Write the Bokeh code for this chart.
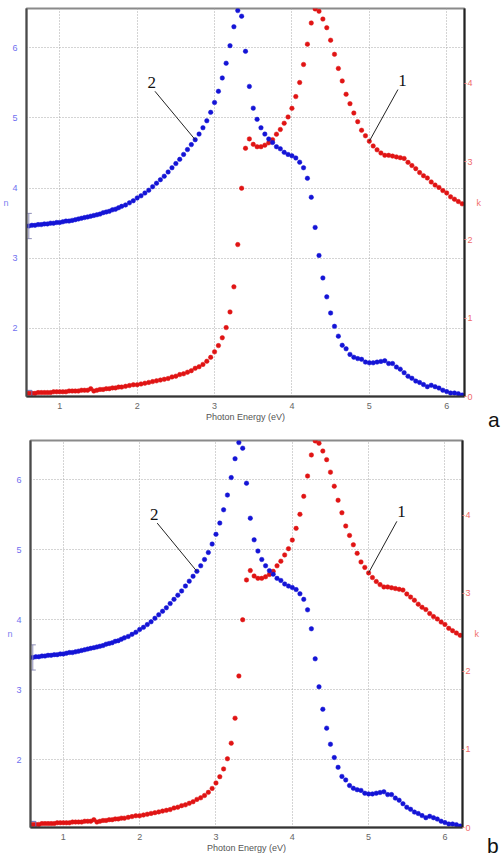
from bokeh.plotting import figure
from bokeh.models import Range1d, LinearAxis, Label, FixedTicker, Div
from bokeh.layouts import column, row
from bokeh.embed import file_html
from bokeh.resources import INLINE

# ---- data ----
energy = [0.60, 0.64, 0.68, 0.72, 0.76, 0.80, 0.84, 0.88, 0.92, 0.96,
          1.00, 1.04, 1.08, 1.12, 1.16, 1.20, 1.24, 1.28, 1.32, 1.36,
          1.40, 1.44, 1.48, 1.52, 1.56, 1.60, 1.64, 1.68, 1.72, 1.76,
          1.80, 1.85, 1.90, 1.95, 2.00, 2.05, 2.10, 2.15, 2.20, 2.25,
          2.30, 2.35, 2.40, 2.45, 2.50, 2.55, 2.60, 2.65, 2.70, 2.75,
          2.80, 2.85, 2.90, 2.95, 3.00, 3.05, 3.10, 3.15, 3.20, 3.25,
          3.30, 3.35, 3.40, 3.45, 3.50, 3.55, 3.60, 3.65, 3.70, 3.75,
          3.80, 3.85, 3.90, 3.95, 4.00, 4.05, 4.10, 4.15, 4.20, 4.25,
          4.30, 4.35, 4.40, 4.45, 4.50, 4.55, 4.60, 4.65, 4.70, 4.75,
          4.80, 4.85, 4.90, 4.95, 5.00, 5.05, 5.10, 5.15, 5.20, 5.25,
          5.30, 5.35, 5.40, 5.45, 5.50, 5.55, 5.60, 5.65, 5.70, 5.75,
          5.80, 5.85, 5.90, 5.95, 6.00, 6.05, 6.10, 6.15, 6.20]

n_values = [3.46, 3.47, 3.47, 3.48, 3.48, 3.49, 3.49, 3.50, 3.50, 3.51,
            3.51, 3.52, 3.53, 3.53, 3.54, 3.55, 3.56, 3.57, 3.58, 3.59,
            3.60, 3.61, 3.62, 3.63, 3.65, 3.66, 3.67, 3.69, 3.70, 3.72,
            3.74, 3.76, 3.79, 3.82, 3.86, 3.89, 3.93, 3.97, 4.02, 4.07,
            4.12, 4.17, 4.23, 4.29, 4.35, 4.41, 4.48, 4.55, 4.62, 4.69,
            4.77, 4.86, 4.96, 5.08, 5.22, 5.38, 5.57, 5.78, 6.03, 6.30,
            6.53, 6.45, 5.95, 5.45, 5.14, 4.98, 4.86, 4.77, 4.70, 4.65,
            4.59, 4.56, 4.51, 4.48, 4.46, 4.43, 4.37, 4.29, 4.14, 3.87,
            3.44, 3.04, 2.72, 2.45, 2.22, 2.03, 1.89, 1.76, 1.71, 1.63,
            1.59, 1.57, 1.56, 1.52, 1.51, 1.51, 1.52, 1.53, 1.54, 1.50,
            1.50, 1.45, 1.42, 1.37, 1.32, 1.29, 1.25, 1.23, 1.20, 1.17,
            1.19, 1.17, 1.15, 1.12, 1.10, 1.08, 1.08, 1.07, 1.05]

k_values = [0.04, 0.04, 0.04, 0.05, 0.05, 0.05, 0.05, 0.05, 0.06, 0.06,
            0.06, 0.06, 0.06, 0.07, 0.07, 0.07, 0.07, 0.08, 0.08, 0.08,
            0.10, 0.07, 0.08, 0.09, 0.09, 0.10, 0.10, 0.11, 0.11, 0.12,
            0.12, 0.13, 0.14, 0.15, 0.15, 0.16, 0.17, 0.18, 0.19, 0.20,
            0.21, 0.22, 0.23, 0.25, 0.26, 0.28, 0.29, 0.31, 0.33, 0.36,
            0.38, 0.41, 0.45, 0.50, 0.57, 0.65, 0.75, 0.88, 1.08, 1.40,
            1.94, 2.66, 3.17, 3.29, 3.22, 3.19, 3.19, 3.21, 3.24, 3.28,
            3.35, 3.41, 3.49, 3.57, 3.68, 3.83, 4.01, 4.24, 4.50, 4.77,
            4.95, 4.92, 4.82, 4.71, 4.55, 4.37, 4.19, 4.03, 3.86, 3.74,
            3.62, 3.51, 3.40, 3.33, 3.26, 3.20, 3.15, 3.11, 3.08, 3.08,
            3.07, 3.06, 3.05, 3.04, 2.99, 2.95, 2.91, 2.86, 2.82, 2.79,
            2.74, 2.70, 2.67, 2.63, 2.60, 2.55, 2.52, 2.49, 2.46]

x_ticks = [1, 2, 3, 4, 5, 6]
n_ticks = [2, 3, 4, 5, 6]
k_ticks = [0, 1, 2, 3, 4]
panel_letters = ["a", "b"]
curve_names = ["1", "2"]   # 1 -> k curve, 2 -> n curve
x_title = "Photon Energy (eV)"
n_title = "n"
k_title = "k"

BLUE = "#1414d6"
RED = "#e01414"
FONT = "Liberation Sans"


def side_label(axis, text, color, fallback_label, plot):
    try:
        axis.axis_label = text
        axis.axis_label_orientation = "horizontal"
        axis.axis_label_text_font = FONT
        axis.axis_label_text_font_size = "9px"
        axis.axis_label_text_font_style = "normal"
        axis.axis_label_text_color = color
        axis.axis_label_standoff = 1
    except Exception:
        axis.axis_label = None
        plot.add_layout(fallback_label)


def make_panel(b_left, b_right, b_top, b_bottom, fw, fh):
    p = figure(frame_width=fw, frame_height=fh,
               min_border_left=b_left, min_border_right=b_right,
               min_border_top=b_top, min_border_bottom=b_bottom,
               x_range=Range1d(0.57, 6.23), y_range=Range1d(1.03, 6.56),
               output_backend="svg", toolbar_location=None)
    p.extra_y_ranges = {"k": Range1d(0.0, 4.955)}
    p.background_fill_color = "white"
    p.border_fill_color = "white"
    p.outline_line_color = "#8a8a8a"
    p.outline_line_width = 2

    # axes
    xa = p.xaxis[0]
    xa.ticker = FixedTicker(ticks=x_ticks)
    xa.axis_line_color = "#333333"
    xa.axis_line_width = 2
    xa.major_tick_line_color = None
    xa.minor_tick_line_color = None
    xa.major_label_text_font = FONT
    xa.major_label_text_font_size = "9px"
    xa.major_label_text_color = "#666666"
    xa.major_label_standoff = 0
    xa.axis_label = x_title
    xa.axis_label_text_font = FONT
    xa.axis_label_text_font_size = "9px"
    xa.axis_label_text_font_style = "normal"
    xa.axis_label_text_color = "#555555"
    xa.axis_label_standoff = 0

    ya = p.yaxis[0]
    ya.ticker = FixedTicker(ticks=n_ticks)
    ya.axis_line_color = "#4a4a4a"
    ya.axis_line_width = 2
    ya.major_tick_line_color = None
    ya.minor_tick_line_color = None
    ya.major_label_text_font = FONT
    ya.major_label_text_font_size = "9px"
    ya.major_label_text_color = "#7070f0"
    ya.major_label_standoff = 3

    ka = LinearAxis(y_range_name="k", ticker=FixedTicker(ticks=k_ticks))
    ka.axis_line_color = "#222222"
    ka.axis_line_width = 2
    ka.major_tick_line_color = "#f08080"
    ka.major_tick_in = 0
    ka.major_tick_out = 2
    ka.minor_tick_line_color = None
    ka.major_label_text_font = FONT
    ka.major_label_text_font_size = "9px"
    ka.major_label_text_color = "#f06a6a"
    ka.major_label_standoff = 1
    p.add_layout(ka, "right")

    side_label(ya, n_title, "#8080f0",
               Label(x=-16, y=fh / 2, x_units="screen", y_units="screen", text=n_title,
                     text_font=FONT, text_font_size="9px", text_color="#8080f0",
                     text_align="center", text_baseline="middle"), p)
    side_label(ka, k_title, "#f07070",
               Label(x=fw + 15, y=fh / 2, x_units="screen", y_units="screen", text=k_title,
                     text_font=FONT, text_font_size="9px", text_color="#f07070",
                     text_align="center", text_baseline="middle"), p)

    # grid
    p.xgrid.grid_line_color = "#a8a8a8"
    p.xgrid.grid_line_dash = "1 2"
    p.ygrid.grid_line_color = "#a8a8a8"
    p.ygrid.grid_line_dash = "1 2"

    # data
    p.scatter(energy, k_values, y_range_name="k", size=4.5,
              fill_color=RED, line_color=RED, line_width=0.5)
    p.scatter(energy, n_values, size=4.5,
              fill_color=BLUE, line_color=BLUE, line_width=0.5)

    # start markers at first data point
    p.segment(x0=[energy[0]], y0=[n_values[0] - 0.18], x1=[energy[0]], y1=[n_values[0] + 0.18],
              line_color="#8f8fb8", line_width=1)
    p.scatter([energy[0], energy[0]], [n_values[0] - 0.18, n_values[0] + 0.18], marker="dash",
              size=6, line_color="#8f8fb8", line_width=1)
    p.scatter([energy[0]], [k_values[0]], y_range_name="k", marker="square", size=6,
              fill_color=None, line_color="#6d6db5", line_width=1)

    # curve annotations
    i2 = energy.index(2.75)
    p.segment(x0=[2.23], y0=[5.38], x1=[energy[i2]], y1=[n_values[i2]],
              line_color="#222222", line_width=1)
    p.add_layout(Label(x=2.19, y=5.50, text=curve_names[1], text_font="Liberation Serif",
                       text_font_size="17px", text_align="center", text_baseline="middle",
                       text_color="#111111"))
    i1 = energy.index(5.00)
    p.segment(x0=[5.37], y0=[3.92], x1=[energy[i1]], y1=[k_values[i1]], y_range_name="k",
              line_color="#222222", line_width=1)
    p.add_layout(Label(x=5.43, y=4.04, y_range_name="k", text=curve_names[0],
                       text_font="Liberation Serif", text_font_size="17px",
                       text_align="center", text_baseline="middle", text_color="#111111"))
    return p


def letter_div(letter, width, height, pad_top, pad_left):
    html = ('<div style="padding-top:%dpx;padding-left:%dpx;font-family:\'Liberation Sans\';'
            'font-size:21px;line-height:21px;color:#111111;white-space:nowrap;">%s</div>'
            % (pad_top, pad_left, letter))
    return Div(text=html, width=width, height=height, margin=0)


pa = make_panel(26, 24, 8, 34, 438, 388)
pb = make_panel(30, 24, 10, 30, 432, 387)

da = letter_div(panel_letters[0], 14, 430, 409, 0)
db = letter_div(panel_letters[1], 16, 427, 405, 1)

layout = column(row(pa, da, spacing=0), row(pb, db, spacing=0), spacing=0)
open("out.html", "w").write(file_html(layout, INLINE))
